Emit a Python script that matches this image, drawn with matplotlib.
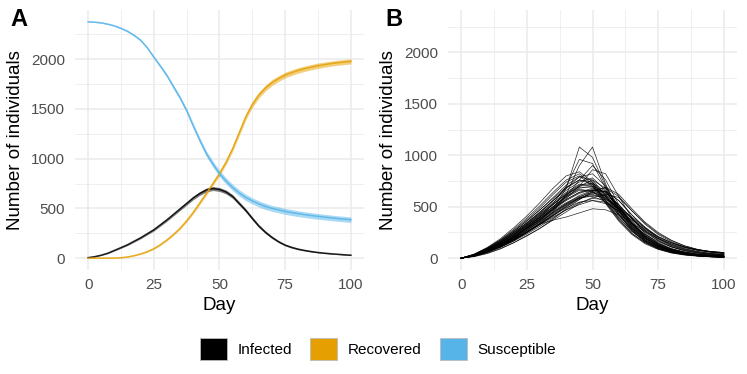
import numpy as np
import matplotlib.pyplot as plt
from matplotlib.patches import Patch

plt.rcParams['font.family'] = ['Liberation Sans', 'DejaVu Sans']

# ---- data -------------------------------------------------------------
# panel A: mean trajectories (every 2.5 days) and ribbon half widths
days_a = np.arange(0, 100.1, 2.5)
susceptible = [2375, 2372, 2365, 2352, 2335, 2310, 2280, 2240, 2190, 2115, 2020,
               1930, 1835, 1722, 1610, 1483, 1330, 1185, 1050, 945, 850,
               775, 710, 655, 610, 575, 545, 520, 500, 485, 470,
               458, 447, 437, 428, 420, 412, 405, 398, 392, 386]
infected = [5, 15, 30, 50, 78, 106, 135, 170, 205, 245, 285,
            335, 385, 440, 495, 550, 605, 650, 685, 700, 690,
            665, 620, 550, 480, 399, 322, 260, 208, 165, 131,
            108, 90, 77, 66, 57, 50, 44, 39, 34, 30]
recovered = [0, 0, 0, 0, 1, 4, 12, 25, 42, 65, 95,
             135, 183, 238, 300, 375, 460, 555, 650, 750, 850,
             965, 1100, 1260, 1420, 1545, 1640, 1710, 1765, 1805, 1840,
             1865, 1887, 1905, 1920, 1934, 1945, 1955, 1964, 1971, 1978]
sus_hw = [4, 4, 5, 5, 6, 7, 8, 9, 10, 11, 12, 14, 16, 18, 20, 22, 24, 26, 28, 30, 32,
          32, 32, 32, 32, 31, 31, 31, 30, 30, 30, 30, 29, 29, 29, 29, 28, 28, 28, 28, 28]
inf_hw = [2, 3, 4, 5, 6, 7, 8, 9, 10, 11, 12, 13, 14, 15, 16, 17, 18, 19, 20, 20, 20,
          20, 19, 18, 17, 16, 15, 13, 12, 10, 9, 8, 7, 6, 6, 5, 5, 4, 4, 4, 4]
rec_hw = [1, 1, 1, 1, 1, 2, 2, 3, 4, 5, 6, 7, 8, 9, 10, 12, 14, 16, 18, 20, 22,
          24, 26, 28, 30, 30, 30, 30, 30, 29, 29, 28, 28, 27, 27, 27, 26, 26, 26, 26, 26]

# panel B: individual runs of infected counts (every 5 days)
days_b = np.arange(0, 101, 5)
runs = [
    [0, 25, 70, 125, 190, 270, 360, 480, 680, 1080, 980, 700, 470, 310, 195, 120, 75, 48, 30, 20, 12],
    [0, 20, 60, 110, 175, 250, 340, 450, 620, 900, 1080, 720, 450, 290, 175, 105, 62, 40, 25, 15, 10],
    [0, 30, 80, 140, 210, 300, 400, 530, 700, 960, 920, 680, 430, 270, 160, 100, 60, 40, 25, 18, 12],
    [0, 25, 65, 120, 180, 250, 330, 370, 400, 440, 480, 470, 420, 340, 260, 190, 140, 100, 75, 60, 50],
    [0, 15, 45, 90, 150, 220, 290, 370, 450, 530, 590, 620, 590, 460, 340, 240, 170, 120, 85, 65, 55],
    [0, 35, 90, 160, 250, 340, 440, 560, 680, 760, 720, 560, 400, 260, 160, 100, 60, 40, 25, 15, 10],
    [0, 30, 80, 150, 230, 320, 420, 520, 620, 700, 720, 620, 460, 310, 200, 120, 75, 45, 30, 20, 15],
    [0, 25, 70, 130, 200, 290, 380, 480, 570, 640, 680, 640, 500, 350, 230, 150, 95, 60, 40, 28, 20],
    [0, 20, 60, 110, 170, 250, 330, 420, 510, 580, 630, 610, 520, 390, 270, 180, 120, 80, 55, 40, 30],
    [0, 35, 95, 170, 260, 360, 470, 580, 690, 760, 740, 600, 420, 270, 160, 95, 55, 35, 22, 14, 10],
    [0, 28, 75, 135, 210, 290, 370, 460, 540, 600, 640, 600, 480, 340, 220, 140, 90, 60, 40, 28, 20],
    [0, 22, 62, 120, 185, 260, 340, 430, 520, 590, 620, 580, 480, 360, 250, 170, 110, 75, 50, 35, 25],
    [0, 30, 85, 150, 230, 320, 410, 500, 600, 680, 700, 640, 490, 340, 220, 135, 85, 55, 35, 25, 18],
    [0, 25, 70, 125, 195, 280, 360, 450, 530, 590, 600, 550, 450, 330, 230, 160, 110, 75, 55, 40, 30],
    [0, 32, 85, 155, 240, 330, 430, 540, 640, 720, 700, 580, 420, 280, 180, 110, 70, 45, 30, 20, 14],
    [0, 20, 55, 105, 165, 235, 310, 390, 470, 540, 580, 570, 500, 400, 300, 210, 150, 105, 80, 65, 55],
    [0, 28, 78, 140, 220, 310, 400, 500, 610, 700, 760, 680, 500, 340, 210, 130, 80, 50, 32, 22, 16],
    [0, 26, 72, 135, 205, 290, 380, 470, 560, 630, 670, 630, 520, 380, 260, 170, 110, 70, 48, 34, 25],
    [0, 24, 66, 120, 190, 270, 350, 440, 520, 580, 610, 590, 500, 380, 270, 190, 130, 90, 65, 48, 38],
    [0, 30, 82, 150, 235, 330, 430, 530, 620, 690, 690, 600, 450, 300, 190, 120, 75, 48, 32, 22, 16],
    [0, 34, 92, 165, 250, 345, 450, 560, 660, 740, 780, 660, 470, 300, 180, 110, 65, 40, 25, 16, 11],
    [0, 27, 74, 135, 210, 300, 390, 490, 590, 660, 650, 560, 420, 290, 190, 125, 80, 52, 35, 25, 18],
    [0, 22, 64, 118, 180, 255, 335, 420, 500, 570, 640, 650, 560, 420, 290, 190, 125, 85, 58, 42, 32],
    [0, 31, 84, 150, 225, 310, 400, 500, 600, 670, 650, 540, 390, 260, 170, 110, 70, 45, 30, 21, 15],
    [0, 18, 50, 95, 150, 215, 290, 380, 480, 570, 650, 690, 620, 480, 350, 250, 175, 120, 85, 62, 48],
    [0, 38, 100, 180, 280, 390, 510, 640, 760, 820, 720, 540, 370, 240, 150, 90, 55, 34, 22, 14, 9],
    [0, 26, 68, 128, 200, 285, 370, 470, 580, 700, 860, 820, 600, 390, 240, 145, 88, 55, 35, 23, 16],
    [0, 24, 64, 118, 182, 258, 335, 415, 490, 545, 560, 530, 460, 370, 280, 205, 150, 110, 82, 64, 52],
    [0, 33, 88, 160, 245, 340, 445, 560, 680, 790, 820, 700, 500, 320, 200, 120, 70, 42, 27, 17, 11],
    [0, 21, 58, 108, 170, 245, 325, 410, 500, 590, 660, 680, 600, 460, 330, 230, 160, 110, 78, 58, 45],
    [0, 29, 76, 138, 215, 300, 390, 480, 570, 640, 660, 600, 470, 330, 215, 140, 88, 58, 38, 27, 20],
    [0, 23, 62, 115, 178, 252, 328, 400, 470, 520, 560, 545, 480, 390, 290, 210, 150, 108, 78, 58, 45],
    [0, 36, 96, 172, 262, 362, 470, 590, 710, 790, 760, 610, 430, 280, 170, 100, 60, 36, 22, 14, 9],
    [0, 27, 73, 133, 207, 292, 380, 480, 600, 760, 900, 760, 520, 330, 200, 120, 72, 44, 28, 18, 12],
    [0, 25, 68, 124, 194, 274, 356, 442, 530, 610, 660, 650, 560, 420, 300, 200, 135, 92, 64, 46, 35],
    [0, 31, 82, 148, 228, 318, 415, 520, 630, 710, 730, 650, 490, 330, 210, 130, 80, 50, 32, 21, 15],
    [0, 40, 105, 190, 295, 410, 540, 680, 800, 840, 740, 560, 380, 240, 150, 90, 55, 34, 22, 14, 9],
    [0, 37, 98, 176, 270, 375, 490, 620, 740, 800, 700, 530, 360, 230, 140, 85, 50, 30, 19, 12, 8],
]

labels = ['Infected', 'Recovered', 'Susceptible']
colors = ['#000000', '#E69F00', '#56B4E9']

W, H = 747, 374
fig = plt.figure(figsize=(W / 100, H / 100), dpi=100)


def style(ax, ylim):
    ax.set_xlim(-5, 105)
    ax.set_ylim(*ylim)
    ax.set_xticks([0, 25, 50, 75, 100])
    ax.set_xticks([12.5, 37.5, 62.5, 87.5], minor=True)
    ax.set_yticks([0, 500, 1000, 1500, 2000])
    ax.set_yticks([250, 750, 1250, 1750, 2250], minor=True)
    ax.grid(which='major', color='#EBEBEB', lw=1.1)
    ax.grid(which='minor', color='#EBEBEB', lw=0.55)
    ax.set_axisbelow(True)
    for s in ax.spines.values():
        s.set_visible(False)
    ax.tick_params(which='both', length=0, labelsize=11, labelcolor='#4D4D4D')
    ax.tick_params(axis='y', pad=7)
    ax.tick_params(axis='x', pad=6)
    ax.set_xlabel('Day', fontsize=13.5, labelpad=3)
    ax.set_ylabel('Number of individuals', fontsize=13.5, labelpad=5)


axA = fig.add_axes([75 / W, 1 - 270 / H, 289 / W, 260 / H])
style(axA, (-119, 2494))
for y, hw, c in [(infected, inf_hw, colors[0]),
                 (recovered, rec_hw, colors[1]),
                 (susceptible, sus_hw, colors[2])]:
    y = np.array(y, dtype=float)
    hw = np.array(hw, dtype=float)
    axA.fill_between(days_a, y - hw, y + hw, color=c, alpha=0.5, lw=0)
    axA.plot(days_a, y, color=c, lw=1.1, alpha=0.85)

axB = fig.add_axes([448 / W, 1 - 270 / H, 289 / W, 260 / H])
style(axB, (-115, 2412))
for r in runs:
    axB.plot(days_b, r, color='black', lw=0.5, alpha=0.85)

fig.text(10 / W, 1 - 8 / H, 'A', fontsize=17, fontweight='bold', va='top', ha='left')
fig.text(385 / W, 1 - 8 / H, 'B', fontsize=17, fontweight='bold', va='top', ha='left')

handles = [Patch(facecolor=c, edgecolor='#BBBBBB', lw=0.6) for c in colors]
fig.legend(handles, labels, loc='center', bbox_to_anchor=(378 / W, 1 - 349 / H),
           ncol=3, frameon=False, fontsize=11, handlelength=1.75, handleheight=1.75,
           handletextpad=0.7, columnspacing=1.2)

fig.savefig('out.png', dpi=100)
